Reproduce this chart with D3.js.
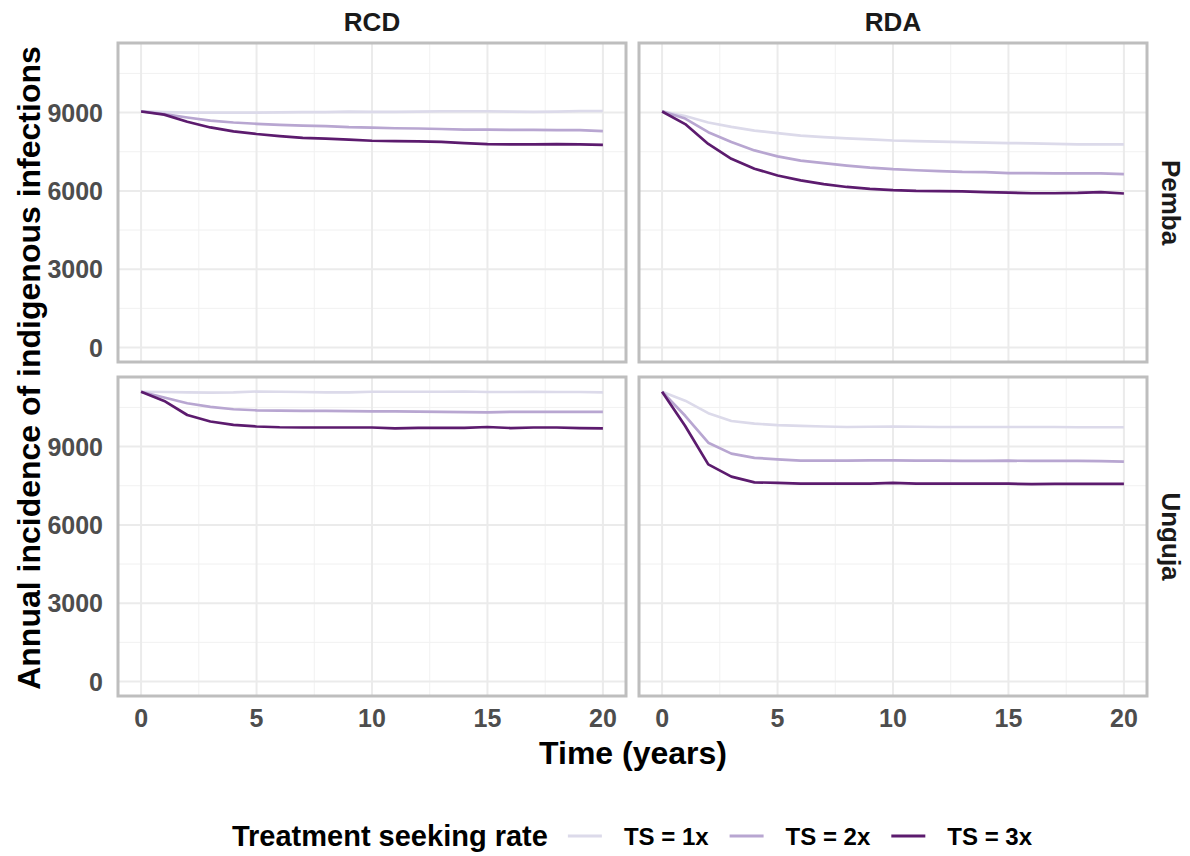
<!DOCTYPE html>
<html>
<head>
<meta charset="utf-8">
<script src="https://cdn.jsdelivr.net/npm/d3@7"></script>
<style>
  body { margin: 0; background: #fff; }
  text { font-family: "Liberation Sans", Arial, sans-serif; font-weight: bold; }
</style>
</head>
<body>
<div id="chart"></div>
<script>
var W = 1190, H = 856;

// data
var years = [0,1,2,3,4,5,6,7,8,9,10,11,12,13,14,15,16,17,18,19,20];
var strategies = ["RCD", "RDA"];
var islands = ["Pemba", "Unguja"];
var tsLabels = ["TS = 1x", "TS = 2x", "TS = 3x"];
var tsColors = ["#dcdaea", "#b8a6d1", "#5c1b6e"];
var yTicks = [0, 3000, 6000, 9000];
var yMinor = [1500, 4500, 7500, 10500];
var xTicks = [0, 5, 10, 15, 20];
var xMinor = [2.5, 7.5, 12.5, 17.5];

var pembaRcd1 = [9050,9020,9000,9000,9000,9000,9010,9020,9020,9040,9030,9030,9040,9050,9050,9050,9040,9030,9040,9060,9060];
var pembaRcd2 = [9050,8940,8810,8690,8620,8570,8530,8500,8480,8440,8420,8400,8390,8370,8350,8350,8340,8340,8330,8330,8290];
var pembaRcd3 = [9040,8920,8650,8430,8280,8180,8100,8030,8000,7960,7920,7910,7900,7880,7830,7790,7780,7780,7790,7780,7760];
var pembaRda1 = [9050,8870,8620,8450,8310,8210,8120,8060,8010,7970,7930,7910,7890,7870,7850,7830,7820,7800,7780,7780,7780];
var pembaRda2 = [9050,8770,8250,7870,7550,7320,7160,7060,6970,6890,6830,6790,6760,6730,6720,6680,6680,6670,6670,6670,6640];
var pembaRda3 = [9040,8560,7800,7230,6850,6590,6400,6260,6150,6080,6030,6000,5990,5980,5950,5930,5910,5910,5920,5950,5900];
var ungujaRcd1 = [11100,11090,11080,11070,11080,11110,11100,11090,11080,11080,11100,11100,11100,11100,11110,11090,11090,11100,11090,11090,11080];
var ungujaRcd2 = [11100,10880,10660,10520,10430,10390,10380,10370,10370,10360,10350,10350,10340,10330,10320,10310,10330,10330,10330,10330,10330];
var ungujaRcd3 = [11100,10750,10210,9960,9830,9770,9740,9730,9730,9730,9730,9700,9720,9720,9720,9750,9710,9730,9730,9710,9700];
var ungujaRda1 = [11100,10760,10280,9980,9880,9820,9790,9770,9750,9760,9770,9760,9750,9750,9750,9750,9750,9750,9740,9740,9740];
var ungujaRda2 = [11100,10180,9150,8730,8570,8510,8460,8460,8460,8470,8470,8460,8460,8450,8450,8460,8450,8450,8450,8440,8420];
var ungujaRda3 = [11100,9790,8320,7850,7630,7610,7580,7580,7580,7580,7610,7580,7580,7580,7580,7580,7560,7570,7570,7570,7570];

var panelData = {
  "Pemba|RCD": [pembaRcd1, pembaRcd2, pembaRcd3],
  "Pemba|RDA": [pembaRda1, pembaRda2, pembaRda3],
  "Unguja|RCD": [ungujaRcd1, ungujaRcd2, ungujaRcd3],
  "Unguja|RDA": [ungujaRda1, ungujaRda2, ungujaRda3]
};

var colX = [118, 639], panelW = 508;
var rowY = [43, 377], panelH = 319;

var svg = d3.select("#chart").append("svg")
  .attr("width", W).attr("height", H);

// shared scales, 5% expansion like ggplot
var x = d3.scaleLinear().domain([-1, 21]).range([0, panelW]);
var allVals = [0].concat(...Object.values(panelData).map(function(s) { return [].concat(...s); }));
var yMax = d3.max(allVals);
var pad = yMax * 0.05;
var y = d3.scaleLinear().domain([-pad, yMax + pad]).range([panelH, 0]);

var line = d3.line()
  .x(function(d, i) { return x(years[i]); })
  .y(function(d) { return y(d); });

islands.forEach(function(isl, r) {
  strategies.forEach(function(st, c) {
    var g = svg.append("g").attr("transform", "translate(" + colX[c] + "," + rowY[r] + ")");

    g.selectAll(".ymin").data(yMinor).enter().append("line")
      .attr("x1", 0).attr("x2", panelW)
      .attr("y1", function(d) { return y(d); }).attr("y2", function(d) { return y(d); })
      .style("stroke", "#f1f1f1").style("stroke-width", 1);
    g.selectAll(".xmin").data(xMinor).enter().append("line")
      .attr("y1", 0).attr("y2", panelH)
      .attr("x1", function(d) { return x(d); }).attr("x2", function(d) { return x(d); })
      .style("stroke", "#f1f1f1").style("stroke-width", 1);
    g.selectAll(".ymaj").data(yTicks).enter().append("line")
      .attr("x1", 0).attr("x2", panelW)
      .attr("y1", function(d) { return y(d); }).attr("y2", function(d) { return y(d); })
      .style("stroke", "#ebebeb").style("stroke-width", 2);
    g.selectAll(".xmaj").data(xTicks).enter().append("line")
      .attr("y1", 0).attr("y2", panelH)
      .attr("x1", function(d) { return x(d); }).attr("x2", function(d) { return x(d); })
      .style("stroke", "#ebebeb").style("stroke-width", 2);

    var series = panelData[isl + "|" + st];
    g.selectAll(".series").data(series).enter().append("path")
      .attr("d", line)
      .style("fill", "none")
      .style("stroke", function(d, i) { return tsColors[i]; })
      .style("stroke-width", 2.7)
      .style("stroke-linejoin", "round");

    g.append("rect")
      .attr("x", 0).attr("y", 0).attr("width", panelW).attr("height", panelH)
      .style("fill", "none").style("stroke", "#bebebe").style("stroke-width", 3);

    // y axis labels on left column
    if (c === 0) {
      g.selectAll(".ytl").data(yTicks).enter().append("text")
        .attr("x", -15).attr("y", function(d) { return y(d); })
        .attr("dy", "0.36em")
        .attr("text-anchor", "end")
        .style("font-size", "25px").style("fill", "#4d4d4d")
        .text(function(d) { return d; });
    }
    // x axis labels on bottom row
    if (r === 1) {
      g.selectAll(".xtl").data(xTicks).enter().append("text")
        .attr("x", function(d) { return x(d); }).attr("y", panelH + 31)
        .attr("text-anchor", "middle")
        .style("font-size", "25px").style("fill", "#4d4d4d")
        .text(function(d) { return d; });
    }
    // strips
    if (r === 0) {
      svg.append("text")
        .attr("x", colX[c] + panelW / 2).attr("y", 31)
        .attr("text-anchor", "middle")
        .style("font-size", "26px").style("fill", "#1a1a1a")
        .text(st);
    }
    if (c === 1) {
      svg.append("text")
        .attr("transform", "translate(" + 1162 + "," + (rowY[r] + panelH / 2) + ")rotate(90)")
        .attr("text-anchor", "middle")
        .style("font-size", "26px").style("fill", "#1a1a1a")
        .text(isl);
    }
  });
});

// axis titles
svg.append("text")
  .attr("x", 633).attr("y", 764)
  .attr("text-anchor", "middle")
  .style("font-size", "32px").style("fill", "#000")
  .text("Time (years)");

svg.append("text")
  .attr("transform", "translate(40," + 368 + ")rotate(-90)")
  .attr("text-anchor", "middle")
  .style("font-size", "32px").style("fill", "#000")
  .text("Annual incidence of indigenous infections");

// legend
var leg = svg.append("g").attr("transform", "translate(0,836)");
var legTitle = leg.append("text")
  .attr("x", 0).attr("dy", "0.36em")
  .style("font-size", "29px").style("fill", "#000")
  .text("Treatment seeking rate");
var cursor = legTitle.node().getComputedTextLength() + 20;
tsLabels.forEach(function(lab, i) {
  leg.append("line")
    .attr("x1", cursor).attr("x2", cursor + 34)
    .attr("y1", 0).attr("y2", 0)
    .style("stroke", tsColors[i]).style("stroke-width", 3);
  var t = leg.append("text")
    .attr("x", cursor + 56).attr("dy", "0.36em")
    .style("font-size", "24px").style("fill", "#000")
    .text(lab);
  cursor = cursor + 56 + t.node().getComputedTextLength() + 21;
});
var legW = cursor - 21;
leg.attr("transform", "translate(" + (632 - legW / 2) + ",836)");
</script>
</body>
</html>
